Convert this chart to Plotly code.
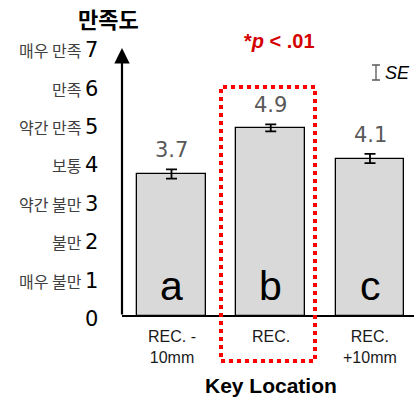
import plotly.graph_objects as go

# Satisfaction score by key location
categories = ["REC. -<br>10mm", "REC.", "REC.<br>+10mm"]
means = [3.7, 4.9, 4.1]
se = [0.12, 0.09, 0.12]
group_letters = ["a", "b", "c"]

tick_values = [7, 6, 5, 4, 3, 2, 1, 0]
tick_words = ["매우 만족", "만족", "약간 만족", "보통", "약간 불만", "불만", "매우 불만", ""]

W, H = 414, 398
# pixel geometry of the drawing area
X_ORIGIN, X_STEP = 171.5, 99.25   # centre of first bar, spacing between bars
Y_ORIGIN, Y_STEP = 316.0, 38.4    # baseline, pixels per score point

def px_x(p):
    return (p - X_ORIGIN) / X_STEP

def px_y(p):
    return (Y_ORIGIN - p) / Y_STEP

FONT = "Liberation Sans, Arial, Noto Sans CJK KR"
WIDE = "DejaVu Sans, Liberation Sans"
KFONT = "Noto Sans CJK KR, Liberation Sans"

xs = list(range(len(categories)))
AXIS_X = px_x(122)

fig = go.Figure()
fig.add_trace(go.Bar(
    x=xs, y=means, width=0.695,
    marker=dict(color="#d9d9d9", line=dict(color="black", width=1.3)),
    error_y=dict(type="data", array=se, visible=True, color="black",
                 thickness=1.8, width=5.5),
    showlegend=False, hoverinfo="skip",
))

# SE key glyph
fig.add_trace(go.Scatter(
    x=[px_x(376)], y=[px_y(72.5)], mode="markers",
    marker=dict(size=1, color="rgba(0,0,0,0)"),
    error_y=dict(type="constant", value=7.5 / Y_STEP, color="#595959",
                 thickness=1.3, width=4),
    showlegend=False, hoverinfo="skip",
))

annotations = []
# value labels above bars
for x, m, e in zip(xs, means, se):
    annotations.append(dict(x=x, y=m + e, text=f"{m:.1f}", showarrow=False,
                            yanchor="bottom", yshift=5,
                            font=dict(family=WIDE, size=21, color="#595959")))
# group letters inside bars
for x, g in zip(xs, group_letters):
    annotations.append(dict(x=x, y=px_y(286), text=g, showarrow=False,
                            yanchor="middle",
                            font=dict(family=FONT, size=41, color="black")))
# category labels
for x, c in zip(xs, categories):
    annotations.append(dict(x=x, y=0, text=c, showarrow=False, yanchor="top",
                            yshift=-10,
                            font=dict(family=FONT, size=16, color="#1a1a1a")))
# y tick labels
for v, w in zip(tick_values, tick_words):
    word = (f"<span style='font-family:{KFONT};font-size:16px;color:#404040'>{w} </span>"
            if w else "")
    annotations.append(dict(x=px_x(100), y=v, text=f"{word}{v}", showarrow=False,
                            xanchor="right", yanchor="middle", yshift=-3,
                            font=dict(family=WIDE, size=21, color="black")))

# y axis with arrow
annotations.append(dict(x=AXIS_X, y=px_y(48), ax=AXIS_X, ay=0, axref="x", ayref="y",
                        text="", showarrow=True, arrowhead=2, arrowsize=1.4,
                        arrowwidth=2.2, arrowcolor="black", standoff=0,
                        startstandoff=0))
# axis titles
annotations.append(dict(x=px_x(108), y=px_y(18), text="<b>만족도</b>", showarrow=False,
                        font=dict(family=KFONT, size=22, color="black")))
annotations.append(dict(x=1, y=px_y(385), text="<b>Key Location</b>", showarrow=False,
                        font=dict(family=FONT, size=21, color="black")))
# significance note
annotations.append(dict(x=px_x(279), y=px_y(41), text="<b>*<i>p</i> &lt; .01</b>",
                        showarrow=False,
                        font=dict(family=FONT, size=20, color="#d40000")))
# SE key text
annotations.append(dict(x=px_x(383), y=px_y(73), text="<i>SE</i>", showarrow=False,
                        xanchor="left",
                        font=dict(family=FONT, size=18, color="black")))

shapes = [
    # baseline
    dict(type="line", x0=AXIS_X, x1=px_x(414), y0=0, y1=0,
         line=dict(color="black", width=2.2)),
    # highlight box around the middle condition
    dict(type="rect", x0=px_x(221), x1=px_x(315), y0=px_y(361), y1=px_y(87),
         line=dict(color="#ff0000", width=4, dash="dot")),
]

fig.update_layout(
    width=W, height=H,
    margin=dict(l=0, r=0, t=0, b=0),
    paper_bgcolor="white", plot_bgcolor="white",
    xaxis=dict(range=[px_x(0), px_x(W)], visible=False, fixedrange=True),
    yaxis=dict(range=[px_y(H), px_y(0)], visible=False, fixedrange=True),
    annotations=annotations, shapes=shapes,
    bargap=0,
)

fig.write_html("out.html")
